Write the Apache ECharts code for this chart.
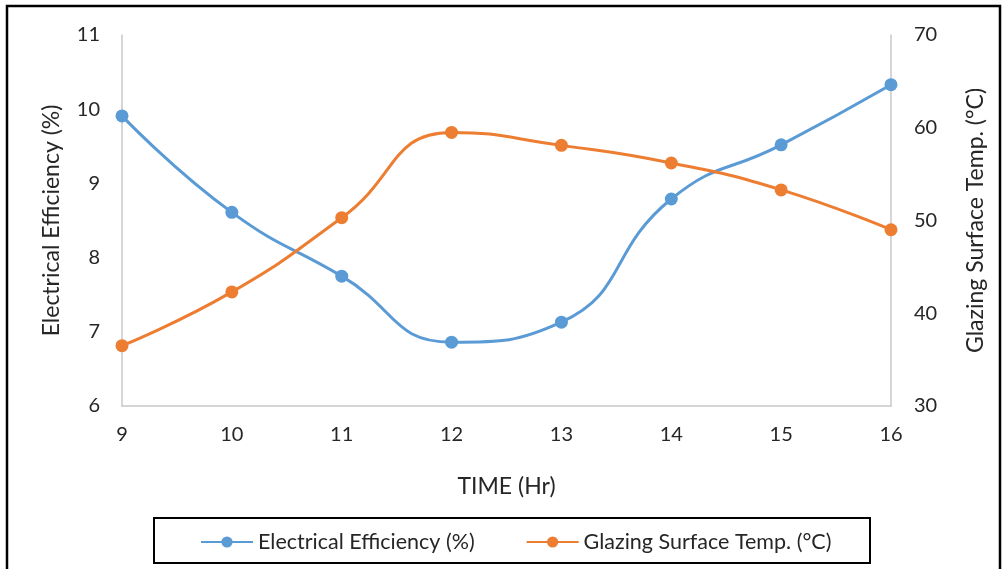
<!DOCTYPE html>
<html>
<head>
<meta charset="utf-8">
<script src="https://cdn.jsdelivr.net/npm/echarts@6/dist/echarts.min.js"></script>
<style>
  html, body { margin: 0; padding: 0; background: #fff; }
  #chart { width: 1003px; height: 569px; }
</style>
</head>
<body>
<div id="chart"></div>
<script>
// time of day (hr)
const hours = ['9', '10', '11', '12', '13', '14', '15', '16'];
// electrical efficiency (%), left axis
const efficiency = [9.91, 8.61, 7.75, 6.86, 7.13, 8.79, 9.52, 10.33];
// glazing surface temperature (°C), right axis
const glazingTemp = [36.5, 42.3, 50.3, 59.5, 58.1, 56.2, 53.3, 49.0];

const fontName = 'Lato, "Open Sans", sans-serif';
const txtColor = '#262626';

const myChart = echarts.init(document.getElementById('chart'));
const option = {
  animation: false,
  textStyle: { fontFamily: fontName },
  grid: { left: 122, right: 112, top: 35, bottom: 163 },
  graphic: [
    {
      type: 'rect',
      shape: { x: 7, y: 6, width: 993, height: 570 },
      style: { fill: 'none', stroke: '#000', lineWidth: 2.5 }
    },
    {
      type: 'rect',
      shape: { x: 154, y: 518, width: 716, height: 45 },
      style: { fill: 'none', stroke: '#000', lineWidth: 2 }
    }
  ],
  legend: {
    left: 195,
    top: 526,
    itemWidth: 52,
    itemHeight: 14,
    itemGap: 51,
    textStyle: { fontSize: 21.5, color: txtColor, fontFamily: fontName },
    data: ['Electrical Efficiency (%)', 'Glazing Surface Temp. (°C)']
  },
  xAxis: {
    type: 'category',
    data: hours,
    boundaryGap: false,
    name: 'TIME (Hr)',
    nameLocation: 'middle',
    nameGap: 69,
    nameTextStyle: { fontSize: 23, color: txtColor },
    axisLine: { lineStyle: { color: '#c8c8c8', width: 1.5 } },
    axisTick: { show: false },
    axisLabel: { fontSize: 20, color: txtColor, margin: 19 },
    splitLine: { show: false }
  },
  yAxis: [
    {
      type: 'value',
      min: 6, max: 11, interval: 1,
      name: 'Electrical Efficiency (%)',
      nameLocation: 'middle',
      nameRotate: 90,
      nameGap: 59,
      nameTextStyle: { fontSize: 23, color: txtColor },
      axisLine: { show: true, lineStyle: { color: '#c8c8c8', width: 1.5 } },
      axisTick: { show: false },
      axisLabel: { fontSize: 20, color: txtColor, margin: 22 },
      splitLine: { show: false }
    },
    {
      type: 'value',
      min: 30, max: 70, interval: 10,
      name: 'Glazing Surface Temp. (°C)',
      nameLocation: 'middle',
      nameRotate: 90,
      nameGap: 73,
      nameTextStyle: { fontSize: 23, color: txtColor },
      axisLine: { show: true, lineStyle: { color: '#c8c8c8', width: 1.5 } },
      axisTick: { show: false },
      axisLabel: { fontSize: 20, color: txtColor, margin: 23 },
      splitLine: { show: false }
    }
  ],
  series: [
    {
      name: 'Electrical Efficiency (%)',
      type: 'line',
      yAxisIndex: 0,
      data: efficiency,
      smooth: 0.5,
      symbol: 'circle',
      symbolSize: 13,
      color: '#5B9BD5',
      lineStyle: { width: 3 }
    },
    {
      name: 'Glazing Surface Temp. (°C)',
      type: 'line',
      yAxisIndex: 1,
      data: glazingTemp,
      smooth: 0.5,
      symbol: 'circle',
      symbolSize: 13,
      color: '#ED7D31',
      lineStyle: { width: 3 }
    }
  ]
};
myChart.setOption(option);
</script>
</body>
</html>
